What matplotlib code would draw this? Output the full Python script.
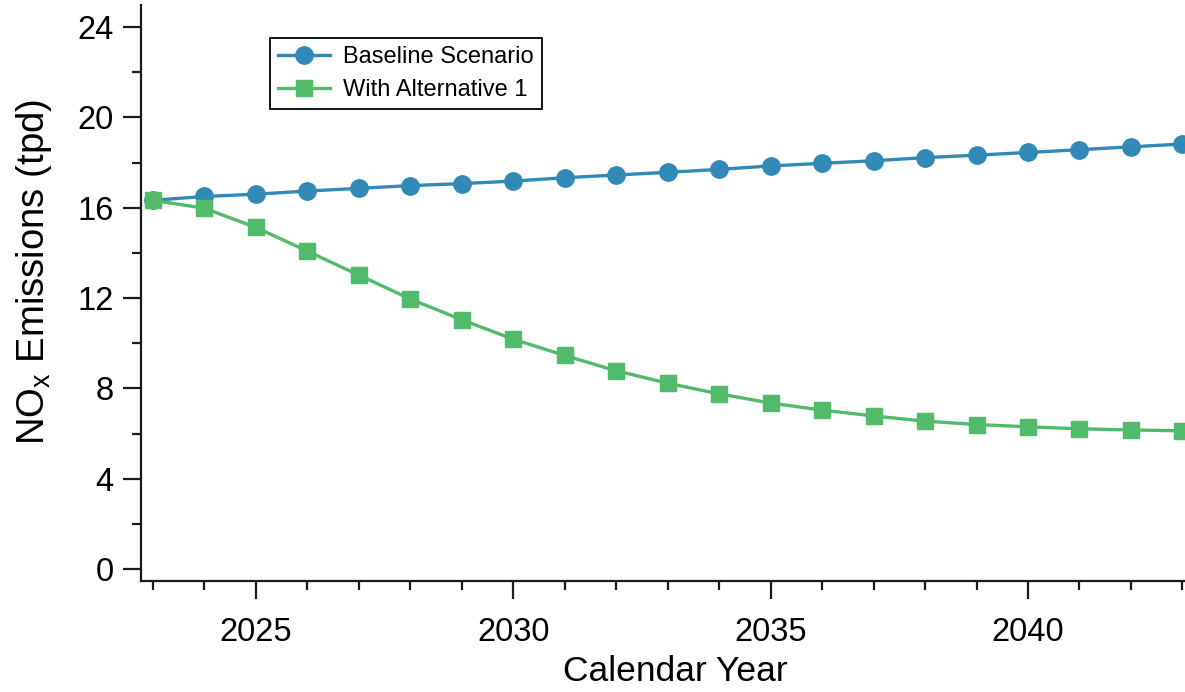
import matplotlib
matplotlib.use("Agg")
import matplotlib.pyplot as plt
from matplotlib.ticker import MultipleLocator

plt.rcParams['font.family'] = ['Liberation Sans', 'DejaVu Sans']
plt.rcParams['mathtext.fontset'] = 'custom'
plt.rcParams['mathtext.rm'] = 'Liberation Sans'

years = list(range(2023, 2044))
baseline = [16.33, 16.50, 16.60, 16.74, 16.86, 16.98, 17.07, 17.18, 17.33, 17.45,
            17.57, 17.70, 17.85, 17.97, 18.08, 18.22, 18.33, 18.45, 18.57, 18.70, 18.82]
alternative1 = [16.33, 15.98, 15.13, 14.08, 13.02, 11.96, 11.04, 10.18, 9.46, 8.78,
                8.23, 7.76, 7.35, 7.04, 6.78, 6.55, 6.40, 6.30, 6.21, 6.16, 6.12]
series_names = ["Baseline Scenario", "With Alternative 1"]
y_major = [0, 4, 8, 12, 16, 20, 24]
x_major = [2025, 2030, 2035, 2040]

blue = "#318ab6"
green = "#51bb6a"

fig = plt.figure(figsize=(11.85, 6.92), dpi=100)
ax = fig.add_axes([141 / 1185, 111 / 692, 1 - 141 / 1185, (581 - 5) / 692])

ax.plot(years, baseline, color=blue, lw=2.4, marker='o', ms=12.5,
        label=series_names[0], clip_on=False, zorder=3)
ax.plot(years, alternative1, color=green, lw=2.4, marker='s', ms=12,
        label=series_names[1], clip_on=False, zorder=3)

ax.set_xlim(2022.77, 2043.05)
ax.set_ylim(-0.53, 24.98)

ax.set_yticks(y_major)
ax.yaxis.set_minor_locator(MultipleLocator(2))
ax.set_xticks(x_major)
ax.xaxis.set_minor_locator(MultipleLocator(1))

for s in ('top', 'right'):
    ax.spines[s].set_visible(False)
for s in ('left', 'bottom'):
    ax.spines[s].set_linewidth(1.6)
    ax.spines[s].set_color('#1a1a1a')

ax.tick_params(axis='both', which='major', length=12.8, width=1.6, color='#1a1a1a',
               labelsize=23.5, pad=7, direction='out')
ax.tick_params(axis='both', which='minor', length=6.5, width=1.6, color='#1a1a1a',
               direction='out')
ax.tick_params(axis='x', which='major', pad=13)

ax.set_xlabel("Calendar Year", fontsize=25.5)
ax.set_ylabel(r"NO$_\mathregular{x}$ Emissions (tpd)", fontsize=27.5)
ax.xaxis.set_label_coords(0.5115, -0.128)
ax.yaxis.set_label_coords(-0.083, 0.536)

leg = ax.legend(loc='upper left', bbox_to_anchor=((270 - 141) / 1044, (581 - 38) / 576),
                fontsize=17, frameon=True, fancybox=False, edgecolor='black',
                framealpha=1, borderpad=0.35, handlelength=2.2, handletextpad=0.55,
                labelspacing=0.45, borderaxespad=0)
leg.get_frame().set_linewidth(1.3)

fig.savefig("out.png", dpi=100)
